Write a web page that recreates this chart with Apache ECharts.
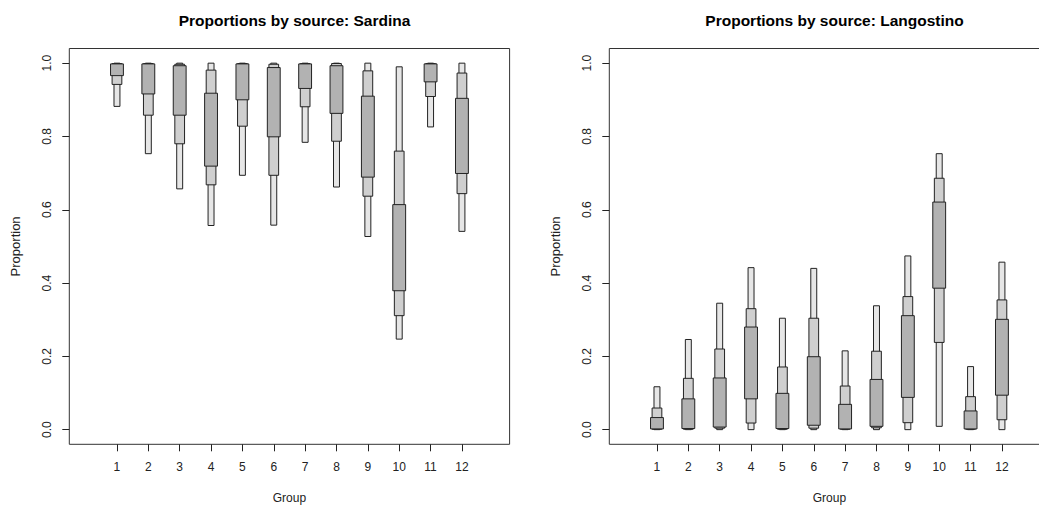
<!DOCTYPE html>
<html>
<head>
<meta charset="utf-8">
<title>Proportions by source</title>
<script src="https://cdn.jsdelivr.net/npm/echarts@6/dist/echarts.min.js"></script>
<style>
  html, body { margin: 0; padding: 0; background: #ffffff; }
  #chart { width: 1039px; height: 506px; }
</style>
</head>
<body>
<div id="chart"></div>
<script>
// Groups on the x axis and tick positions on the y axis
const groups = [1, 2, 3, 4, 5, 6, 7, 8, 9, 10, 11, 12];
const yTicks = [0, 0.2, 0.4, 0.6, 0.8, 1.0];

// Sardina: nested intervals per group (outer, middle, inner)
const sardinaOuterLo = [0.882, 0.753, 0.657, 0.557, 0.694, 0.558, 0.784, 0.662, 0.527, 0.247, 0.826, 0.541];
const sardinaOuterHi = [1.000, 1.000, 1.000, 1.000, 1.000, 1.000, 1.000, 1.000, 1.000, 0.990, 1.000, 1.000];
const sardinaMidLo   = [0.942, 0.858, 0.780, 0.668, 0.828, 0.694, 0.881, 0.787, 0.637, 0.311, 0.909, 0.644];
const sardinaMidHi   = [0.999, 0.999, 0.997, 0.981, 0.999, 0.997, 0.999, 0.999, 0.979, 0.760, 0.999, 0.973];
const sardinaInnerLo = [0.966, 0.916, 0.858, 0.719, 0.900, 0.799, 0.931, 0.863, 0.689, 0.379, 0.949, 0.699];
const sardinaInnerHi = [0.998, 0.998, 0.993, 0.918, 0.998, 0.988, 0.998, 0.993, 0.910, 0.614, 0.998, 0.904];

// Langostino: nested intervals per group (outer, middle, inner)
const langOuterLo = [0.000, 0.000, 0.000, 0.000, 0.000, 0.000, 0.000, 0.000, 0.000, 0.009, 0.000, 0.000];
const langOuterHi = [0.117, 0.246, 0.345, 0.442, 0.304, 0.440, 0.215, 0.338, 0.474, 0.753, 0.172, 0.457];
const langMidLo   = [0.001, 0.001, 0.004, 0.018, 0.001, 0.004, 0.001, 0.005, 0.019, 0.238, 0.001, 0.027];
const langMidHi   = [0.059, 0.140, 0.220, 0.330, 0.171, 0.304, 0.119, 0.214, 0.363, 0.686, 0.090, 0.354];
const langInnerLo = [0.002, 0.003, 0.007, 0.084, 0.003, 0.012, 0.002, 0.009, 0.088, 0.386, 0.002, 0.094];
const langInnerHi = [0.033, 0.084, 0.141, 0.280, 0.099, 0.199, 0.069, 0.137, 0.311, 0.621, 0.051, 0.301];

const FONT = "'Liberation Sans', Arial, sans-serif";
const INK = '#222';

// One layer of boxes: a rectangle per group spanning [lo, hi]
function band(axisIdx, lo, hi, halfWidth, fill) {
  return {
    type: 'custom',
    xAxisIndex: axisIdx,
    yAxisIndex: axisIdx,
    silent: true,
    animation: false,
    data: groups.map((g, i) => [g, lo[i], hi[i]]),
    encode: { x: 0, y: [1, 2] },
    renderItem(params, api) {
      const x = api.value(0);
      const topLeft = api.coord([x - halfWidth, api.value(2)]);
      const botRight = api.coord([x + halfWidth, api.value(1)]);
      return {
        type: 'rect',
        shape: {
          x: topLeft[0],
          y: topLeft[1],
          width: botRight[0] - topLeft[0],
          height: botRight[1] - topLeft[1]
        },
        style: { fill: fill, stroke: INK, lineWidth: 1 }
      };
    }
  };
}

function xAxisFor(gridIndex) {
  return {
    type: 'value', gridIndex: gridIndex, min: -0.52, max: 13.52, position: 'bottom',
    name: 'Group', nameLocation: 'middle', nameGap: 48,
    nameTextStyle: { fontFamily: FONT, fontSize: 12, color: INK },
    axisLine: { show: false, onZero: false },
    splitLine: { show: false },
    axisTick: { show: true, inside: false, length: 7, customValues: groups, lineStyle: { color: INK } },
    axisLabel: { customValues: groups, margin: 17, fontFamily: FONT, fontSize: 12, color: INK }
  };
}

function yAxisFor(gridIndex) {
  return {
    type: 'value', gridIndex: gridIndex, min: -0.04, max: 1.04, position: 'left',
    name: 'Proportion', nameLocation: 'middle', nameGap: 47,
    nameTextStyle: { fontFamily: FONT, fontSize: 13, color: INK },
    axisLine: { show: false, onZero: false },
    splitLine: { show: false },
    axisTick: { show: true, inside: false, length: 7, customValues: yTicks, lineStyle: { color: INK } },
    axisLabel: {
      customValues: yTicks, rotate: 90, margin: 16,
      formatter: v => v.toFixed(1),
      fontFamily: FONT, fontSize: 12, color: INK
    }
  };
}

const chart = echarts.init(document.getElementById('chart'), null, { renderer: 'svg' });

// Both panels keep their exact plot rectangles; the right one runs past the page edge
const panel = { top: 48.5, width: 440.3, height: 395.8, show: true, borderColor: '#333', borderWidth: 1,
  backgroundColor: 'transparent', containLabel: false, outerBoundsMode: 'none' };

chart.setOption({
  backgroundColor: '#ffffff',
  animation: false,
  title: [
    {
      text: 'Proportions by source: Sardina', left: 289.5, top: 7, textAlign: 'center',
      textStyle: { fontFamily: FONT, fontSize: 15.5, fontWeight: 'bold', color: '#000' }
    },
    {
      text: 'Proportions by source: Langostino', left: 829.5, top: 7, textAlign: 'center',
      textStyle: { fontFamily: FONT, fontSize: 15.5, fontWeight: 'bold', color: '#000' }
    }
  ],
  grid: [
    Object.assign({ left: 69.3 }, panel),
    Object.assign({ left: 609.3 }, panel)
  ],
  xAxis: [xAxisFor(0), xAxisFor(1)],
  yAxis: [yAxisFor(0), yAxisFor(1)],
  series: [
    band(0, sardinaOuterLo, sardinaOuterHi, 0.095, '#e6e6e6'),
    band(0, sardinaMidLo, sardinaMidHi, 0.155, '#cfcfcf'),
    band(0, sardinaInnerLo, sardinaInnerHi, 0.205, '#b2b2b2'),
    band(1, langOuterLo, langOuterHi, 0.095, '#e6e6e6'),
    band(1, langMidLo, langMidHi, 0.155, '#cfcfcf'),
    band(1, langInnerLo, langInnerHi, 0.205, '#b2b2b2')
  ]
});
</script>
</body>
</html>
